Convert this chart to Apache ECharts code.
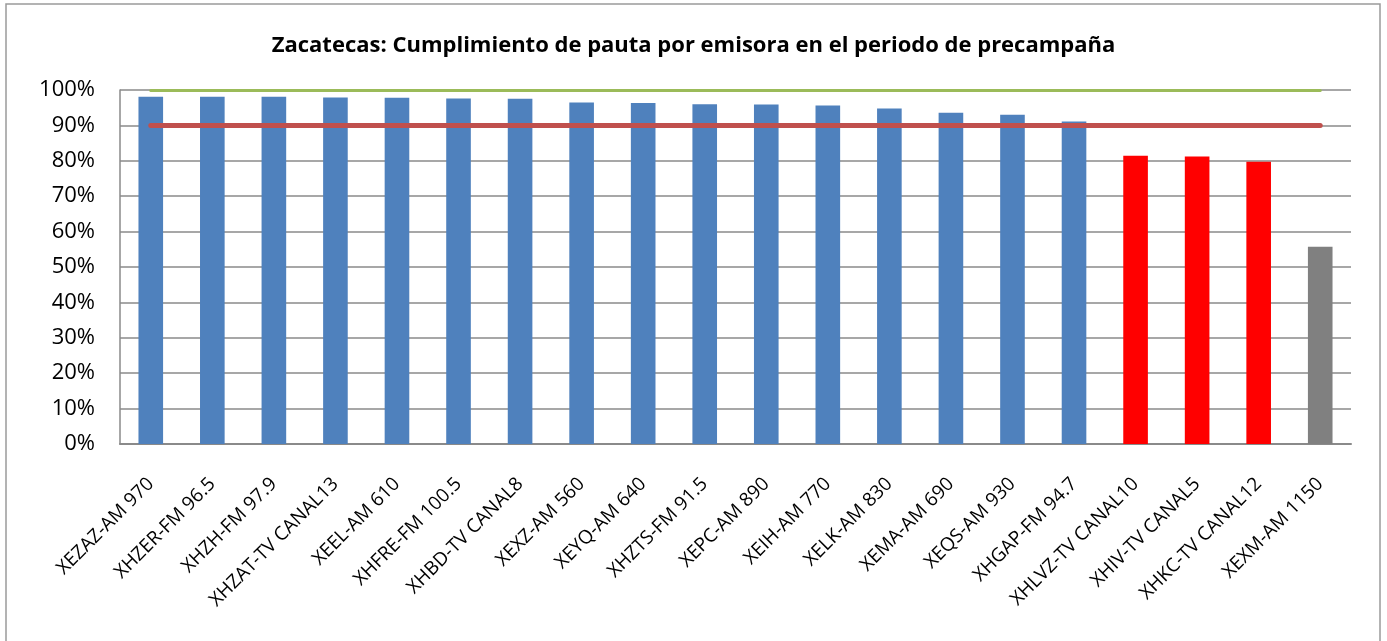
<!DOCTYPE html>
<html>
<head>
<meta charset="utf-8">
<title>Zacatecas</title>
<script src="https://cdn.jsdelivr.net/npm/echarts@6/dist/echarts.min.js"></script>
<style>
  html, body { margin: 0; padding: 0; background: #fff; }
  #chart { width: 1387px; height: 641px; }
</style>
</head>
<body>
<div id="chart"></div>
<script>
  // emisoras, en el orden del gráfico
  var categories = [
    'XEZAZ-AM 970', 'XHZER-FM 96.5', 'XHZH-FM 97.9', 'XHZAT-TV CANAL13',
    'XEEL-AM 610', 'XHFRE-FM 100.5', 'XHBD-TV CANAL8', 'XEXZ-AM 560',
    'XEYQ-AM 640', 'XHZTS-FM 91.5', 'XEPC-AM 890', 'XEIH-AM 770',
    'XELK-AM 830', 'XEMA-AM 690', 'XEQS-AM 930', 'XHGAP-FM 94.7',
    'XHLVZ-TV CANAL10', 'XHIV-TV CANAL5', 'XHKC-TV CANAL12', 'XEXM-AM 1150'
  ];
  // % de cumplimiento
  var cumplimiento = [
    98.1, 98.1, 98.1, 97.9, 97.8, 97.6, 97.5, 96.5, 96.3, 96.0,
    95.9, 95.6, 94.8, 93.6, 93.0, 91.1, 81.4, 81.2, 79.7, 55.7
  ];
  var yTicks = [0, 10, 20, 30, 40, 50, 60, 70, 80, 90, 100];
  var meta = 100;    // línea verde
  var minimo = 90;   // línea roja

  var font = '"Open Sans", Lato, sans-serif';

  function colorFor(v) {
    if (v >= minimo) return '#4F81BD';
    if (v >= 70) return '#FF0000';
    return '#808080';
  }

  var chart = echarts.init(document.getElementById('chart'));
  chart.setOption({
    animation: false,
    backgroundColor: '#fff',
    textStyle: { fontFamily: font, color: '#000' },
    title: {
      text: 'Zacatecas: Cumplimiento de pauta por emisora en el periodo de precampaña',
      left: 'center',
      top: 30,
      textStyle: { fontSize: 22, fontWeight: 'bold', color: '#000', fontFamily: font }
    },
    graphic: [{
      type: 'rect',
      shape: { x: 6, y: 4, width: 1374, height: 660 },
      style: { fill: 'none', stroke: '#9a9a9a', lineWidth: 1.5 },
      silent: true
    }],
    grid: { left: 120, right: 36, top: 90, bottom: 197 },
    xAxis: {
      type: 'category',
      data: categories,
      axisLine: { lineStyle: { color: '#8a8a8a', width: 2 } },
      axisTick: { show: false },
      axisLabel: { rotate: 45, fontSize: 19, color: '#000', margin: 37, interval: 0 }
    },
    yAxis: {
      type: 'value',
      min: yTicks[0],
      max: yTicks[yTicks.length - 1],
      interval: yTicks[1] - yTicks[0],
      axisLine: { show: true, lineStyle: { color: '#8a8a8a', width: 1.5 } },
      axisTick: { show: false },
      splitLine: { lineStyle: { color: '#8a8a8a', width: 1.5 } },
      axisLabel: { formatter: '{value}%', fontSize: 22, color: '#000', margin: 25 }
    },
    series: [{
      type: 'bar',
      data: cumplimiento.map(function (v) {
        return { value: v, itemStyle: { color: colorFor(v) } };
      }),
      barWidth: '40%',
      markLine: {
        silent: true,
        symbol: 'none',
        label: { show: false },
        data: [
          [{ coord: [categories[0], meta], lineStyle: { color: '#9BBB59', width: 3, type: 'solid', cap: 'round' } },
           { coord: [categories[categories.length - 1], meta] }],
          [{ coord: [categories[0], minimo], lineStyle: { color: '#C0504D', width: 5, type: 'solid', cap: 'round' } },
           { coord: [categories[categories.length - 1], minimo] }]
        ]
      }
    }]
  });
</script>
</body>
</html>
